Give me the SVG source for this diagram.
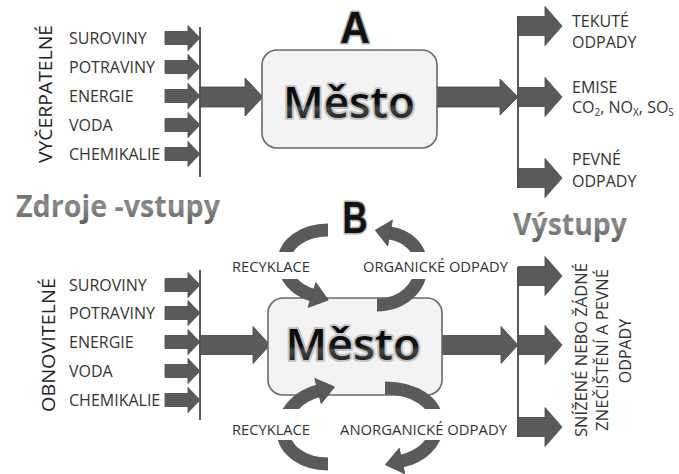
<svg xmlns="http://www.w3.org/2000/svg" xmlns:xlink="http://www.w3.org/1999/xlink" width="679" height="474" viewBox="0 0 679 474">
<defs>
<style>
.lbl{font-family:"Open Sans","Liberation Sans",sans-serif;font-size:16px;fill:#333}
.sm{font-family:"Open Sans","Liberation Sans",sans-serif;font-size:14.5px;fill:#333}
.rot{font-family:"Open Sans","Liberation Sans",sans-serif;font-size:18px;fill:#222}
.title{font-family:"Open Sans","Liberation Sans",sans-serif;font-weight:700;font-size:30px;fill:url(#tg)}
.city{font-family:"Open Sans","Liberation Sans",sans-serif;font-weight:600;font-size:44px;fill:url(#cg);stroke:#c4c4c4;stroke-width:4;paint-order:stroke;stroke-linejoin:round}
.letter{font-family:"Liberation Sans","Open Sans",sans-serif;font-weight:700;font-size:44px;fill:#111;stroke:#b0b0b0;stroke-width:3;paint-order:stroke;stroke-linejoin:round}
.box{fill:#f3f3f3;stroke:#6a6a6a;stroke-width:1.6}
.ar{fill:#5a5a5a;stroke:#444;stroke-width:0.8}
.bus{stroke:#5a5a5a;stroke-width:2;fill:none}
.arc{fill:none;stroke:#5a5a5a;stroke-width:13}
.bg{fill:#fff}
</style>
<linearGradient id="tg" x1="0" y1="0" x2="0" y2="1">
<stop offset="0" stop-color="#555"/>
<stop offset="0.5" stop-color="#8c8c8c"/>
<stop offset="1" stop-color="#5a5a5a"/>
</linearGradient>
<linearGradient id="cg" x1="0" y1="0" x2="0" y2="1">
<stop offset="0" stop-color="#000"/>
<stop offset="0.55" stop-color="#111"/>
<stop offset="0.62" stop-color="#444"/>
<stop offset="1" stop-color="#000"/>
</linearGradient>
<path id="sa" class="ar" d="M0,-6.5 H23 V-12.5 L35,0 L23,12.5 V6.5 H0Z"/>
<path id="oa" class="ar" d="M0,-9.5 H27 V-19.5 L44,0 L27,19.5 V9.5 H0Z"/>
</defs>

<g id="connectors">
<!-- A inputs -->
<use href="#sa" x="165" y="38"/>
<use href="#sa" x="165" y="67"/>
<use href="#sa" x="165" y="96"/>
<use href="#sa" x="165" y="125"/>
<use href="#sa" x="165" y="154"/>
<line class="bus" x1="200" y1="27" x2="200" y2="177"/>
<path class="ar" d="M200,87 H245 V78 L263,97 L245,116 V107 H200Z"/>
<!-- A outputs -->
<path class="ar" d="M437,87 H500 V79 L518,97 L500,115 V107 H437Z"/>
<line class="bus" x1="518" y1="16" x2="518" y2="188"/>
<use href="#oa" x="518" y="26"/>
<use href="#oa" x="518" y="97"/>
<use href="#oa" x="518" y="178"/>
<!-- B inputs -->
<use href="#sa" x="165" y="285"/>
<use href="#sa" x="165" y="313"/>
<use href="#sa" x="165" y="342"/>
<use href="#sa" x="165" y="371"/>
<use href="#sa" x="165" y="400"/>
<line class="bus" x1="200" y1="270" x2="200" y2="420"/>
<path class="ar" d="M200,335.5 H253 V326.5 L270,345 L253,363.5 V354.5 H200Z"/>
<!-- B outputs -->
<path class="ar" d="M442,335.5 H501 V326.5 L518,345 L501,363.5 V354.5 H442Z"/>
<line class="bus" x1="518" y1="267" x2="518" y2="437"/>
<use href="#oa" x="518" y="276"/>
<use href="#oa" x="518" y="345"/>
<use href="#oa" x="518" y="427"/>
</g>

<g id="mesto-a">
<rect class="box" x="262" y="50" width="175" height="98" rx="15"/>
<text class="city" x="349" y="118" text-anchor="middle" textLength="132" lengthAdjust="spacingAndGlyphs">Město</text>
</g>
<g id="label-a"><text class="letter" x="355" y="43" text-anchor="middle" textLength="30" lengthAdjust="spacingAndGlyphs">A</text></g>

<g id="mesto-b">
<rect class="box" x="268" y="298" width="174" height="97" rx="15"/>
</g>

<g id="cycles">
<path class="arc" d="M328,230 C303,230 284,244 284,262 C284,278 296,290 312,295"/>
<polygon class="ar" points="308.1,307.4 328.2,300.1 315.9,282.6"/>
<path class="arc" d="M377,305 C402,305 421,288 421,266 C421,248 408,236 390,233"/>
<polygon class="ar" points="392.4,220.2 375.3,230.2 387.6,245.8"/>
<path class="arc" d="M328,464 C303,464 284,450 283,432 C282,413 298,396 318,391"/>
<polygon class="ar" points="321.2,403.6 334.5,386.9 314.8,378.4"/>
<path class="arc" d="M385,388 C414,388 437,402 437,424 C437,444 420,457 402,461"/>
<polygon class="ar" points="404.8,473.7 385.4,464.7 399.2,448.3"/>
<rect class="bg" x="228" y="252" width="86" height="27"/>
<rect class="bg" x="358" y="252" width="154" height="27"/>
<rect class="bg" x="228" y="409" width="86" height="31"/>
<rect class="bg" x="336" y="409" width="176" height="31"/>
<text class="sm" x="232" y="272" textLength="78" lengthAdjust="spacingAndGlyphs">RECYKLACE</text>
<text class="sm" x="363" y="272" textLength="145" lengthAdjust="spacingAndGlyphs">ORGANICKÉ ODPADY</text>
<text class="sm" x="232" y="435" textLength="78" lengthAdjust="spacingAndGlyphs">RECYKLACE</text>
<text class="sm" x="340" y="435" textLength="167" lengthAdjust="spacingAndGlyphs">ANORGANICKÉ ODPADY</text>
</g>

<g id="mesto-b-text">
<text class="city" x="353" y="360" text-anchor="middle" textLength="135" lengthAdjust="spacingAndGlyphs">Město</text>
</g>
<g id="label-b"><text class="letter" x="355" y="233" text-anchor="middle" font-size="38" textLength="25" lengthAdjust="spacingAndGlyphs">B</text></g>

<g id="inputs-a">
<text class="rot" transform="translate(52,94) rotate(-90)" text-anchor="middle" textLength="138" lengthAdjust="spacingAndGlyphs">VYČERPATELNÉ</text>
<text class="lbl" x="69" y="44">SUROVINY</text>
<text class="lbl" x="69" y="73">POTRAVINY</text>
<text class="lbl" x="69" y="102">ENERGIE</text>
<text class="lbl" x="69" y="131">VODA</text>
<text class="lbl" x="69" y="160">CHEMIKALIE</text>
</g>

<g id="outputs-a">
<text class="lbl" x="572" y="27">TEKUTÉ</text>
<text class="lbl" x="572" y="48">ODPADY</text>
<text class="lbl" x="572" y="93">EMISE</text>
<text class="lbl" x="572" y="113">CO<tspan font-size="10" dy="3">2</tspan><tspan dy="-3">, NO</tspan><tspan font-size="10" dy="3">X</tspan><tspan dy="-3">, SO</tspan><tspan font-size="10" dy="3">S</tspan></text>
<text class="lbl" x="572" y="165">PEVNÉ</text>
<text class="lbl" x="572" y="187">ODPADY</text>
</g>

<g id="titles">
<text class="title" x="16" y="217" textLength="204" lengthAdjust="spacingAndGlyphs">Zdroje -vstupy</text>
<text class="title" x="513" y="235" textLength="114" lengthAdjust="spacingAndGlyphs">Výstupy</text>
</g>

<g id="inputs-b">
<text class="rot" transform="translate(55,345) rotate(-90)" text-anchor="middle" textLength="134" lengthAdjust="spacingAndGlyphs">OBNOVITELNÉ</text>
<text class="lbl" x="69" y="291">SUROVINY</text>
<text class="lbl" x="69" y="319">POTRAVINY</text>
<text class="lbl" x="69" y="348">ENERGIE</text>
<text class="lbl" x="69" y="377">VODA</text>
<text class="lbl" x="69" y="406">CHEMIKALIE</text>
</g>

<g id="outputs-b">
<text class="lbl" transform="translate(587,350) rotate(-90)" text-anchor="middle" textLength="174" lengthAdjust="spacingAndGlyphs">SNÍŽENÉ NEBO ŽÁDNÉ</text>
<text class="lbl" transform="translate(608,350) rotate(-90)" text-anchor="middle" textLength="162" lengthAdjust="spacingAndGlyphs">ZNEČIŠTĚNÍ A PEVNÉ</text>
<text class="lbl" transform="translate(631,351) rotate(-90)" text-anchor="middle">ODPADY</text>
</g>
</svg>
